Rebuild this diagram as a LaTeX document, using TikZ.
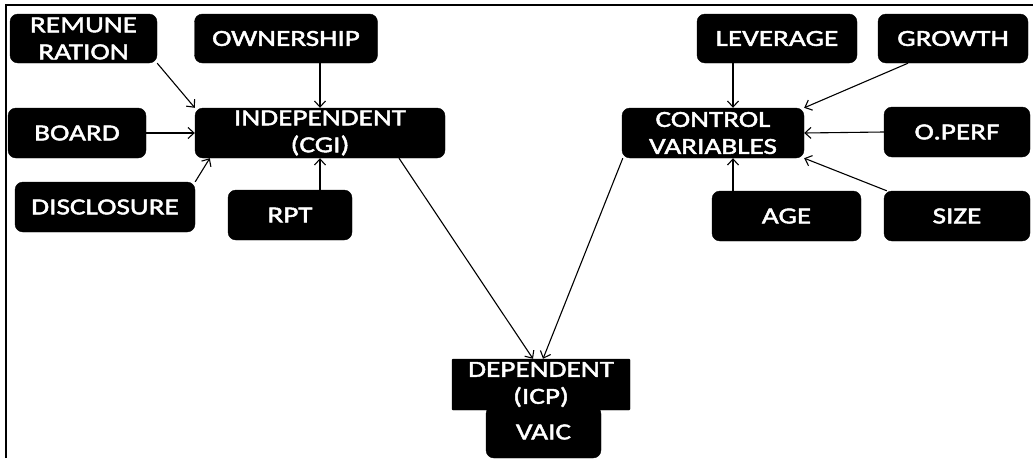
\documentclass[tikz,border=0pt]{standalone}
\usepackage{fontspec}
\newfontfamily\boxfont{Carlito}[FakeStretch=1.27,FakeBold=2]
\usetikzlibrary{arrows.meta,calc}
\begin{document}
\begin{tikzpicture}[x=1pt,y=-1pt,
  blk/.style={fill=black,draw=black,rounded corners=8pt,text=white,
    font=\boxfont\fontsize{23}{27}\selectfont,align=center,
    inner sep=0pt,anchor=center},
  arr/.style={line width=1.1pt,-{Straight Barb[length=6pt,width=11pt,line width=1.1pt]}},
  frame/.style={line width=1.6pt}]
\useasboundingbox (0,0) rectangle (1033,458);
\draw[frame] (6,458) -- (6,5) -- (1033,5);
% left cluster
\node[blk,minimum width=147pt,minimum height=49pt] (rem) at (83.5,38.5) {REMUNE\\RATION};
\node[blk,minimum width=183pt,minimum height=49pt] (own) at (286,38.5) {OWNERSHIP};
\node[blk,minimum width=138pt,minimum height=50pt] (board) at (77,133) {BOARD};
\node[blk,minimum width=250pt,minimum height=50pt] (indep) at (320,133) {INDEPENDENT\\(CGI)};
\node[blk,minimum width=180pt,minimum height=50pt] (disc) at (105,207) {DISCLOSURE};
\node[blk,minimum width=124pt,minimum height=50pt] (rpt) at (290,215) {RPT};
% right cluster
\node[blk,minimum width=160pt,minimum height=49pt] (lev) at (777,38.5) {LEVERAGE};
\node[blk,minimum width=150pt,minimum height=49pt] (grow) at (953,38.5) {GROWTH};
\node[blk,minimum width=182pt,minimum height=50pt] (ctrl) at (713,133) {CONTROL\\VARIABLES};
\node[blk,minimum width=146pt,minimum height=50pt] (operf) at (957,132) {O.PERF};
\node[blk,minimum width=149pt,minimum height=50pt] (age) at (786.5,216) {AGE};
\node[blk,minimum width=146pt,minimum height=50pt] (size) at (957,216) {SIZE};
% bottom
\node[blk,minimum width=115pt,minimum height=52pt] (vaic) at (543.5,432) {\raisebox{-3pt}{VAIC}};
\node[blk,rounded corners=1pt,minimum width=178pt,minimum height=51pt] (dep) at (541,384.5) {DEPENDENT\\(ICP)};
% arrows left
\draw[arr] (rem.south east) -- (indep.north west);
\draw[arr] (own.south -| indep.north) -- (indep.north);
\draw[arr] (board.east) -- (indep.west);
\draw[arr] (disc.north east) -- ($(indep.south west)+(15,0)$);
\draw[arr] (rpt.north -| indep.south) -- (indep.south);
\draw[arr] ($(indep.south)+(79,0)$) -- ($(dep.north)+(-8,0)$);
% arrows right
\draw[arr] ($(ctrl.south west)+(1,0)$) -- ($(dep.north)+(2,0)$);
\coordinate (cx) at ($(ctrl.north)+(20,0)$);
\draw[arr] (lev.south -| cx) -- (cx);
\draw[arr] ($(grow.south)+(-45,0)$) -- (ctrl.north east);
\draw[arr] (operf.west) -- (ctrl.east);
\coordinate (cs) at ($(ctrl.south)+(20,0)$);
\draw[arr] (age.north -| cs) -- (cs);
\draw[arr] ($(size.north west)+(3,0)$) -- (ctrl.south east);
\end{tikzpicture}
\end{document}
